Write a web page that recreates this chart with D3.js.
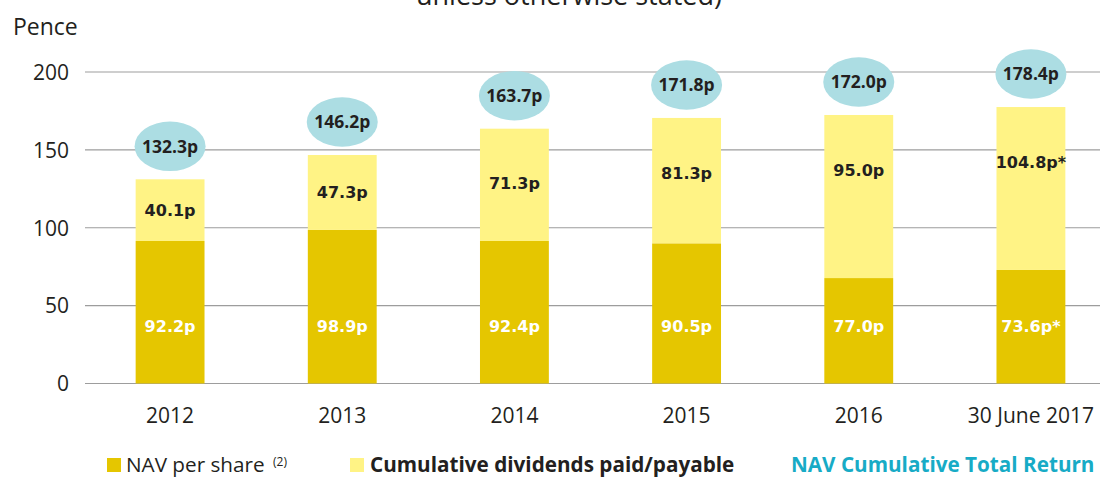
<!DOCTYPE html>
<html>
<head>
<meta charset="utf-8">
<script src="https://cdn.jsdelivr.net/npm/d3@7"></script>
<style>
  html, body { margin: 0; padding: 0; background: #fff; }
  svg { display: block; }
</style>
</head>
<body>
<svg id="chart" width="1104" height="478"></svg>
<script>
// ---- data ----
const categories = ["2012", "2013", "2014", "2015", "2016", "30 June 2017"];
// bar heights as drawn (pence)
const navValues = [91.5, 98.6, 91.5, 90.0, 67.7, 72.9];
const divValues = [39.6, 48.1, 72.1, 80.5, 104.7, 104.6];
// printed labels
const navLabels = ["92.2p", "98.9p", "92.4p", "90.5p", "77.0p", "73.6p*"];
const divLabels = ["40.1p", "47.3p", "71.3p", "81.3p", "95.0p", "104.8p*"];
const totalReturnLabels = ["132.3p", "146.2p", "163.7p", "171.8p", "172.0p", "178.4p"];
const yTicks = [0, 50, 100, 150, 200];
const legendItems = ["NAV per share", "Cumulative dividends paid/payable", "NAV Cumulative Total Return"];

// ---- styles ----
const C_NAV = "#e5c600", C_DIV = "#fff385", C_ELL = "#acdde3", C_TEAL = "#17abc6";
const C_TEXT = "#231f20", C_GRID = "#9d9d9d";
const FONT = "'Open Sans', sans-serif";

const svg = d3.select("#chart");
const y = d3.scaleLinear().domain([0, 200]).range([383.5, 72]);
const x = d3.scaleBand().domain(categories).range([84, 1117]).paddingInner(0.6).paddingOuter(0.3);

// partial title at top
svg.append("text").attr("x", 416).attr("y", 5).attr("font-family", FONT)
  .attr("font-size", 27).attr("fill", C_TEXT).text("unless otherwise stated)");

// y axis label
svg.append("text").attr("x", 13).attr("y", 35).attr("font-family", FONT)
  .attr("font-size", 23).attr("fill", C_TEXT).text("Pence");

// gridlines + tick labels
const yAxis = d3.axisLeft(y).tickValues(yTicks).tickSize(0).tickPadding(0);
const gy = svg.append("g").attr("transform", "translate(69,0)").call(yAxis);
gy.select(".domain").remove();
gy.selectAll("text").attr("font-family", FONT).attr("font-size", 21).attr("fill", C_TEXT).attr("x", 0).attr("dy", "0.35em");
svg.append("g").selectAll("line").data(yTicks).join("line")
  .attr("x1", 85).attr("x2", 1100)
  .attr("y1", d => y(d)).attr("y2", d => y(d))
  .attr("stroke", C_GRID).attr("stroke-width", 1.2);

// x axis labels
const xAxis = d3.axisBottom(x).tickSize(0).tickPadding(0);
const gx = svg.append("g").attr("transform", "translate(0,423)").call(xAxis);
gx.select(".domain").remove();
gx.selectAll("text").attr("font-family", FONT).attr("font-size", 21).attr("fill", C_TEXT).attr("dy", 0).attr("y", 0);

// bars
const rows = categories.map((c, i) => ({ c, nav: navValues[i], div: divValues[i], i }));
const bars = svg.append("g");
bars.selectAll(".nav").data(rows).join("rect")
  .attr("x", d => x(d.c)).attr("width", x.bandwidth())
  .attr("y", d => y(d.nav)).attr("height", d => y(0) - y(d.nav))
  .attr("fill", C_NAV);
bars.selectAll(".div").data(rows).join("rect")
  .attr("x", d => x(d.c)).attr("width", x.bandwidth())
  .attr("y", d => y(d.nav + d.div)).attr("height", d => y(d.nav) - y(d.nav + d.div))
  .attr("fill", C_DIV);

const cx = d => x(d.c) + x.bandwidth() / 2;
const LBL = "'DejaVu Sans', sans-serif";

// NAV labels
svg.append("g").selectAll("text").data(rows).join("text")
  .attr("x", cx).attr("y", y(37)).attr("dy", "0.36em")
  .attr("text-anchor", "middle").attr("font-family", LBL).attr("font-weight", "bold")
  .attr("font-size", 16).attr("fill", "#fff").text(d => navLabels[d.i]);

// dividend labels
svg.append("g").selectAll("text").data(rows).join("text")
  .attr("x", cx)
  .attr("y", d => Math.min((y(d.nav) + y(d.nav + d.div)) / 2, y(d.nav + d.div) + 55))
  .attr("dy", "0.36em")
  .attr("text-anchor", "middle").attr("font-family", LBL).attr("font-weight", "bold")
  .attr("font-size", 16).attr("fill", C_TEXT).text(d => divLabels[d.i]);

// total return ellipses
const eg = svg.append("g");
eg.selectAll("ellipse").data(rows).join("ellipse")
  .attr("cx", cx).attr("cy", d => y(d.nav + d.div) - 33)
  .attr("rx", 35.5).attr("ry", 24.7).attr("fill", C_ELL);
eg.selectAll("text").data(rows).join("text")
  .attr("x", cx).attr("y", d => y(d.nav + d.div) - 33).attr("dy", "0.36em")
  .attr("text-anchor", "middle").attr("font-family", FONT).attr("font-weight", "bold")
  .attr("font-size", 17.5).attr("fill", C_TEXT).text(d => totalReturnLabels[d.i]);

// legend
const lg = svg.append("g");
lg.append("rect").attr("x", 107).attr("y", 458).attr("width", 14).attr("height", 14).attr("fill", C_NAV);
lg.append("text").attr("x", 126).attr("y", 472).attr("font-family", FONT)
  .attr("font-size", 20.7).attr("fill", C_TEXT).text(legendItems[0]);
lg.append("text").attr("x", 273).attr("y", 466).attr("font-family", FONT)
  .attr("font-size", 12).attr("fill", C_TEXT).text("(2)");
lg.append("rect").attr("x", 350).attr("y", 458).attr("width", 14).attr("height", 14).attr("fill", C_DIV);
lg.append("text").attr("x", 370).attr("y", 472).attr("font-family", FONT).attr("font-weight", "bold")
  .attr("font-size", 20.7).attr("fill", C_TEXT).text(legendItems[1]);
lg.append("text").attr("x", 791).attr("y", 472).attr("font-family", FONT).attr("font-weight", "bold")
  .attr("font-size", 20.7).attr("fill", C_TEAL).text(legendItems[2]);
</script>
</body>
</html>
